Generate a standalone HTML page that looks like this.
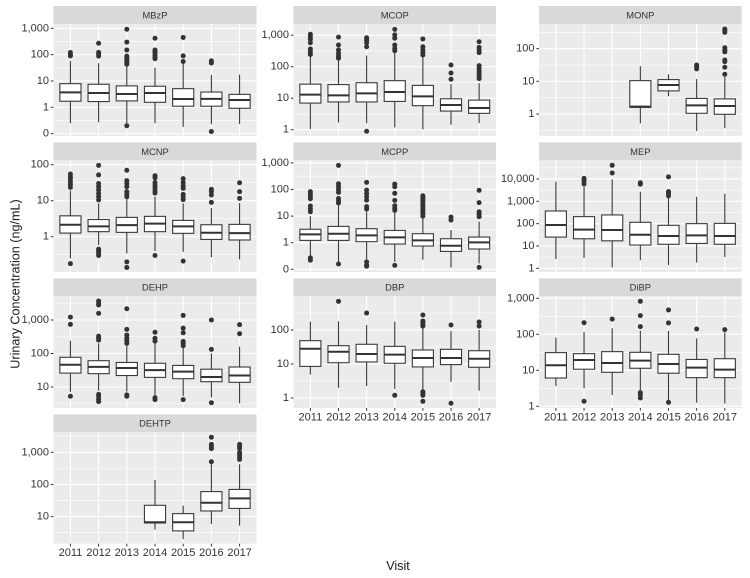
<!DOCTYPE html>
<html lang="en">
<head>
<meta charset="utf-8">
<title>Urinary Concentration by Visit</title>
<style>
html,body{margin:0;padding:0;background:#fff;width:750px;height:578px;overflow:hidden}
svg{display:block;font-family:"Liberation Sans",sans-serif}
</style>
</head>
<body>
<svg id="chart" width="750" height="578" viewBox="0 0 750 578" xmlns="http://www.w3.org/2000/svg">
  <text transform="translate(15.5 284) rotate(-90)" text-anchor="middle" dominant-baseline="central" font-size="12.6" fill="#1a1a1a">Urinary Concentration (ng/mL)</text>
  <text x="398" y="566" text-anchor="middle" dominant-baseline="central" font-size="12.6" fill="#1a1a1a">Visit</text>
</svg>
<script>
const years = ["2011","2012","2013","2014","2015","2016","2017"];

// Box statistics per visit: [lower whisker, Q1, median, Q3, upper whisker]
const mbzpStats = [[.25,1.7,3.7,7.9,57],[.27,1.65,3.5,7.5,47],[.25,1.75,3.2,6.5,40],[.25,1.55,3.5,6.3,32],[.18,1.1,2.07,5.1,47],[.23,1.1,2.1,3.8,17],[.23,.92,1.9,3.1,17.5]];
const mbzpOutliers = [[120,100,90],[270,122,105,88],[920,300,150,88,75,65,55,48,43,.2],[420,150,130,115,95,80,70],[450,90,55],[58,48,.12],[]];

const mcopStats = [[1.05,7,13,28,235],[1.7,7.6,12.3,27,163],[1.6,7.6,14.2,31,225],[1.18,7.9,15.7,36,300],[1.02,5.8,11.4,25.5,207],[1.44,3.9,6.1,9.6,28],[1.63,3.3,4.9,8.7,30]];
const mcopOutliers = [[1070,900,740,575,365,300,245],[870,490,340,265,215,185],[830,700,575,430,.89],[1530,1020,800,490,380,320],[760,430,340,280,235],[113,63,40],[620,410,340,280,108,89,73,61,50,42]];

const monpStats = [null,null,null,[.52,1.6,1.68,10.5,29],[3.5,5.1,7.7,11.3,16.4],[.3,1.05,1.84,3,11.8],[.37,.98,1.76,2.9,13.5]];
const monpOutliers = [[],[],[],[],[],[31.5,28,24],[400,355,315,107,91,80,45,40,27,16.4]];

const mcnpStats = [[.25,1.26,2.15,3.8,19],[.59,1.38,1.94,3,8.4],[.345,1.32,2.1,3.44,12.4],[.4,1.38,2.3,3.67,12.9],[.38,1.24,1.94,2.84,8.4],[.27,.84,1.29,2.15,6.3],[.235,.81,1.26,2.2,8.6]];
const mcnpOutliers = [[55,47,41.5,34,28.5,23.5,.178],[96,52,30,24.5,20,16,13,10.5,.45,.4,.345,.3],[70,36,30,24.5,17.8,15.3,12.9,.2,.14],[49.5,43,32,27,23,19,16.3,.3],[41,32,26,22,15,12.7,10.7,.21],[20.6,17.8,14.4,9],[31.6,17.8,11.6]];

const mcppStats = [[.32,1.22,2.06,3.2,10],[.19,1.22,2.18,4.1,26],[.24,1.09,1.89,3.36,14.6],[.19,.89,1.59,2.9,14.6],[.23,.75,1.22,2.18,8.2],[.118,.47,.77,1.41,3],[.167,.58,1.03,1.63,6.3]];
const mcppOutliers = [[83,68,55,45,24,18.4,14.6,.27,.22],[810,165,128,100,78,46,38,31,.158],[185,95,71,54,40,22.6,18.4,.19,.145,.13],[160,127,72,39,24.6,19.5,16.4,.14],[58,50,42,36,30,25,21,17.5,14.5,12,10],[9.2,7.1],[93,32,14.6,11.7,9.5,.118]];

const mepStats = [[2.6,25,87,369,7600],[2.9,21,54,206,4500],[1.1,17,52,245,9600],[2.3,11,32,115,2700],[1.4,11.9,28,84,1600],[1.8,13,30,100,1600],[3.2,11.9,28,103,2200]];
const mepOutliers = [[],[10600,8300,6000],[41000,18500],[6800,5800],[12500,2700,2200,1750],[],[]];

const dehpStats = [[7.2,26,46,77,241],[7.8,25,40,61,200],[7.3,22,37,54,167],[5.8,19.4,32,51,225],[5.4,17.7,28.7,44,160],[4.9,14.4,19.9,34,101],[3.25,13.8,22,39.5,160]];
const dehpOutliers = [[1220,740,5.3],[3700,3150,2800,1580,330,290,250,6,5.2,4.3,3.65],[2170,525,355,285,240,200,5.8,5.3],[430,285,235,4.8,4.2],[1370,570,415,230,200,170,4.2],[1000,133,3.4],[725,390]];

const dbpStats = [[4.9,8.5,28,48.6,176],[2,10.9,23,34.6,180],[2.25,11.5,19.7,38,140],[1.84,10.5,18.8,33,176],[1.7,8.2,15,25.8,120],[3,9.6,15,27,93],[1.64,8,14.3,24.6,100]];
const dbpOutliers = [[],[697],[315],[1.2],[277,183,165,147,130,1.53,1.37,1.2,.8],[140,.7],[172,130]];

const dibpStats = [[3.67,6.1,13.8,31,81],[3.16,10.7,19.4,29,116],[2.06,8.8,16,33,147],[2.84,11.4,18.6,31.6,126],[1.5,8.3,15,27.8,124],[1.26,6.25,11.9,20,77],[1.19,6.25,10.4,21,113]];
const dibpOutliers = [[],[210,1.38],[265],[825,330,163,2.4,2.06,1.7],[475,207,1.29],[140],[135]];

const dehtpStats = [null,null,null,[3.95,6.35,6.7,22.5,138],[2,3.6,6.7,12.4,22],[5.9,15,27,60,425],[5.25,18,37,70,425]];
const dehtpOutliers = [[],[],[],[],[],[2930,1760,1520,1300,510],[1760,1520,1320,980,830,700,600]];

// Tick values and printed labels
const ticksMbzp = [0.1,1,10,100,1000];
const labelsMbzp = ["0","1","10","100","1,000"];
const ticksMcop = [1,10,100,1000];
const labelsMcop = ["1","10","100","1,000"];
const ticksMonp = [1,10,100];
const labelsMonp = ["1","10","100"];
const ticksMep = [1,10,100,1000,10000];
const labelsMep = ["1","10","100","1,000","10,000"];
const ticksDehp = [10,100,1000];
const labelsDehp = ["10","100","1,000"];

// Facet layout (geometry only)
const columns = [{x:53.5,w:203},{x:293.5,w:202.5},{x:539,w:202.7}];
const rows = [{s:6,t:24,b:136},{s:142.3,t:160.3,b:272},{s:278.3,t:296,b:408},{s:414.3,t:432,b:543.7}];

const facets = [
  {name:"MBzP", col:0,row:0,one:107.3,decade:26.33,stats:mbzpStats,out:mbzpOutliers,ticks:ticksMbzp,labels:labelsMbzp,xAxis:false},
  {name:"MCOP", col:1,row:0,one:129.7,decade:31.5,stats:mcopStats,out:mcopOutliers,ticks:ticksMcop,labels:labelsMcop,xAxis:false},
  {name:"MONP", col:2,row:0,one:114,decade:32.67,stats:monpStats,out:monpOutliers,ticks:ticksMonp,labels:labelsMonp,xAxis:false},
  {name:"MCNP", col:0,row:1,one:236.7,decade:36,stats:mcnpStats,out:mcnpOutliers,ticks:ticksMonp,labels:labelsMonp,xAxis:false},
  {name:"MCPP", col:1,row:1,one:242.7,decade:26.6,stats:mcppStats,out:mcppOutliers,ticks:ticksMbzp,labels:labelsMbzp,xAxis:false},
  {name:"MEP",  col:2,row:1,one:268.3,decade:22.33,stats:mepStats,out:mepOutliers,ticks:ticksMep,labels:labelsMep,xAxis:false},
  {name:"DEHP", col:0,row:2,one:420.5,decade:33.5,stats:dehpStats,out:dehpOutliers,ticks:ticksDehp,labels:labelsDehp,xAxis:false},
  {name:"DBP",  col:1,row:2,one:398,decade:34,stats:dbpStats,out:dbpOutliers,ticks:ticksMonp,labels:labelsMonp,xAxis:true},
  {name:"DiBP", col:2,row:2,one:406.3,decade:36,stats:dibpStats,out:dibpOutliers,ticks:ticksMcop,labels:labelsMcop,xAxis:true},
  {name:"DEHTP",col:0,row:3,one:548.8,decade:32.17,stats:dehtpStats,out:dehtpOutliers,ticks:ticksDehp,labels:labelsDehp,xAxis:true}
];

const NS = "http://www.w3.org/2000/svg";
const svg = document.getElementById("chart");

function make(parent, tag, props) {
  const el = document.createElementNS(NS, tag);
  for (const k in props) el.setAttribute(k, props[k]);
  parent.appendChild(el);
  return el;
}

facets.forEach(function (f) {
  const col = columns[f.col], row = rows[f.row];
  const step = col.w / 7.2;
  const xScale = function (i) { return col.x + (i + 0.6) * step; };
  const yScale = function (v) { return f.one - Math.log10(v) * f.decade; };
  const key = f.name.toLowerCase();

  const g = make(svg, "g", {});
  
  

  const strip = make(g, "rect", {x:col.x, y:row.s, width:col.w, height:row.t-row.s, fill:"#d9d9d9"});
  
  

  const stripLabel = make(g, "text", {x:col.x+col.w/2, y:(row.s+row.t)/2, "text-anchor":"middle", "dominant-baseline":"central", "font-size":"9.4", fill:"#333"});
  stripLabel.textContent = f.name;
  
  

  const bg = make(g, "rect", {x:col.x, y:row.t, width:col.w, height:row.b-row.t, fill:"#ebebeb"});
  
  

  // minor grid at half-decades inside the panel
  for (let p = -2; p <= 6; p++) {
    const y = yScale(Math.pow(10, p + 0.5));
    if (y > row.t && y < row.b) {
      const minor = make(g, "line", {x1:col.x, x2:col.x+col.w, y1:y, y2:y, stroke:"#fff", "stroke-width":"0.6"});
      
      
    }
  }

  // major horizontal grid, ticks and tick labels
  f.ticks.forEach(function (t, i) {
    const y = yScale(t);
    const major = make(g, "line", {x1:col.x, x2:col.x+col.w, y1:y, y2:y, stroke:"#fff", "stroke-width":"1.1"});
    
    
    const tick = make(g, "line", {x1:col.x-2.7, x2:col.x, y1:y, y2:y, stroke:"#333", "stroke-width":"1"});
    
    
    const lab = make(g, "text", {x:col.x-4.5, y:y, "text-anchor":"end", "dominant-baseline":"central", "font-size":"11", fill:"#333"});
    lab.textContent = f.labels[i];
    
    
  });

  // vertical grid
  years.forEach(function (yr, i) {
    const x = xScale(i);
    const vg = make(g, "line", {x1:x, x2:x, y1:row.t, y2:row.b, stroke:"#fff", "stroke-width":"1.1"});
    
    
    if (f.xAxis) {
      const xt = make(g, "line", {x1:x, x2:x, y1:row.b, y2:row.b+2.7, stroke:"#333", "stroke-width":"1"});
      
      
      const xl = make(g, "text", {x:x, y:row.b+9.5, "text-anchor":"middle", "dominant-baseline":"central", "font-size":"11", fill:"#333"});
      xl.textContent = yr;
      
      
    }
  });

  // boxes
  years.forEach(function (yr, i) {
    const s = f.stats[i];
    const x = xScale(i);
    const bw = step * 0.75;
    f.out[i].forEach(function (v) {
      const dot = make(g, "circle", {cx:x, cy:yScale(v), r:"2.5", fill:"#333"});
      
      
    });
    if (!s) return;
    const upper = make(g, "line", {x1:x, x2:x, y1:yScale(s[3]), y2:yScale(s[4]), stroke:"#3a3a3a", "stroke-width":"1.1"});
    
    
    const lower = make(g, "line", {x1:x, x2:x, y1:yScale(s[1]), y2:yScale(s[0]), stroke:"#3a3a3a", "stroke-width":"1.1"});
    
    
    const box = make(g, "rect", {x:x-bw/2, y:yScale(s[3]), width:bw, height:yScale(s[1])-yScale(s[3]), fill:"#fff", stroke:"#3a3a3a", "stroke-width":"1.1"});
    
    
    const med = make(g, "line", {x1:x-bw/2, x2:x+bw/2, y1:yScale(s[2]), y2:yScale(s[2]), stroke:"#333", "stroke-width":"2"});
    
    
  });
});
</script>
</body>
</html>
